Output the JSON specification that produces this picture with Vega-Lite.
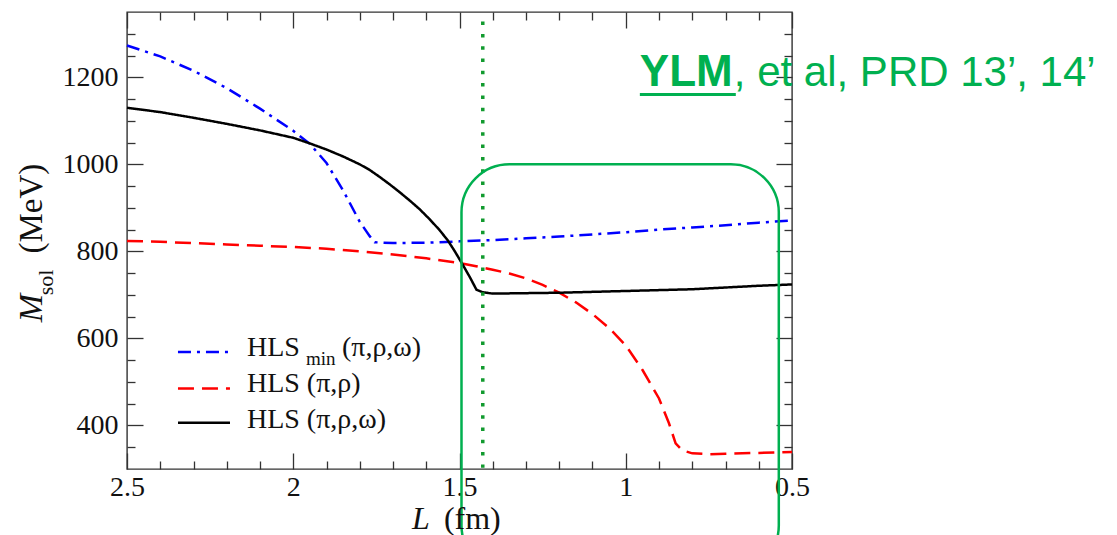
{
  "$schema": "https://vega.github.io/schema/vega-lite/v6.json",
  "width": 665,
  "height": 457,
  "autosize": {"type": "none"},
  "padding": {"left": 127, "top": 12, "right": 325, "bottom": 66},
  "background": "white",
  "config": {
    "view": {"stroke": "#333333", "strokeWidth": 1.4},
    "axis": {"tickColor": "#333333", "tickWidth": 1.3, "labelFont": "Liberation Serif", "labelFontSize": 28, "labelColor": "#111111", "grid": false, "domain": false, "labelFlush": false, "labelOverlap": false}
  },
  "layer": [
    {
      "data": {"values": [
        {"series": "HLS_min", "L": 2.5, "M": 1273}, {"series": "HLS_min", "L": 2.4, "M": 1248}, {"series": "HLS_min", "L": 2.3, "M": 1215}, {"series": "HLS_min", "L": 2.2, "M": 1175}, {"series": "HLS_min", "L": 2.1, "M": 1128}, {"series": "HLS_min", "L": 2.0, "M": 1077}, {"series": "HLS_min", "L": 1.95, "M": 1047}, {"series": "HLS_min", "L": 1.9, "M": 1003}, {"series": "HLS_min", "L": 1.85, "M": 940}, {"series": "HLS_min", "L": 1.8, "M": 868}, {"series": "HLS_min", "L": 1.77, "M": 835}, {"series": "HLS_min", "L": 1.755, "M": 821}, {"series": "HLS_min", "L": 1.7, "M": 819}, {"series": "HLS_min", "L": 1.6, "M": 820}, {"series": "HLS_min", "L": 1.5, "M": 823}, {"series": "HLS_min", "L": 1.4, "M": 826}, {"series": "HLS_min", "L": 1.3, "M": 830}, {"series": "HLS_min", "L": 1.2, "M": 834}, {"series": "HLS_min", "L": 1.1, "M": 839}, {"series": "HLS_min", "L": 1.0, "M": 844}, {"series": "HLS_min", "L": 0.9, "M": 850}, {"series": "HLS_min", "L": 0.8, "M": 855}, {"series": "HLS_min", "L": 0.7, "M": 860}, {"series": "HLS_min", "L": 0.6, "M": 866}, {"series": "HLS_min", "L": 0.5, "M": 871},
        {"series": "HLS_pr", "L": 2.5, "M": 824}, {"series": "HLS_pr", "L": 2.4, "M": 822}, {"series": "HLS_pr", "L": 2.3, "M": 819}, {"series": "HLS_pr", "L": 2.2, "M": 816}, {"series": "HLS_pr", "L": 2.1, "M": 813}, {"series": "HLS_pr", "L": 2.0, "M": 810}, {"series": "HLS_pr", "L": 1.9, "M": 806}, {"series": "HLS_pr", "L": 1.8, "M": 800}, {"series": "HLS_pr", "L": 1.7, "M": 793}, {"series": "HLS_pr", "L": 1.6, "M": 784}, {"series": "HLS_pr", "L": 1.5, "M": 773}, {"series": "HLS_pr", "L": 1.45, "M": 766}, {"series": "HLS_pr", "L": 1.4, "M": 758}, {"series": "HLS_pr", "L": 1.35, "M": 749}, {"series": "HLS_pr", "L": 1.3, "M": 738}, {"series": "HLS_pr", "L": 1.25, "M": 723}, {"series": "HLS_pr", "L": 1.2, "M": 705}, {"series": "HLS_pr", "L": 1.15, "M": 683}, {"series": "HLS_pr", "L": 1.1, "M": 656}, {"series": "HLS_pr", "L": 1.05, "M": 624}, {"series": "HLS_pr", "L": 1.0, "M": 584}, {"series": "HLS_pr", "L": 0.95, "M": 528}, {"series": "HLS_pr", "L": 0.9, "M": 462}, {"series": "HLS_pr", "L": 0.87, "M": 405}, {"series": "HLS_pr", "L": 0.85, "M": 359}, {"series": "HLS_pr", "L": 0.83, "M": 343}, {"series": "HLS_pr", "L": 0.8, "M": 336}, {"series": "HLS_pr", "L": 0.75, "M": 334}, {"series": "HLS_pr", "L": 0.7, "M": 335}, {"series": "HLS_pr", "L": 0.6, "M": 337}, {"series": "HLS_pr", "L": 0.5, "M": 339},
        {"series": "HLS_prw", "L": 2.5, "M": 1130}, {"series": "HLS_prw", "L": 2.4, "M": 1120}, {"series": "HLS_prw", "L": 2.3, "M": 1107}, {"series": "HLS_prw", "L": 2.2, "M": 1093}, {"series": "HLS_prw", "L": 2.1, "M": 1078}, {"series": "HLS_prw", "L": 2.0, "M": 1061}, {"series": "HLS_prw", "L": 1.95, "M": 1048}, {"series": "HLS_prw", "L": 1.9, "M": 1034}, {"series": "HLS_prw", "L": 1.85, "M": 1018}, {"series": "HLS_prw", "L": 1.8, "M": 1000}, {"series": "HLS_prw", "L": 1.77, "M": 987}, {"series": "HLS_prw", "L": 1.74, "M": 971}, {"series": "HLS_prw", "L": 1.71, "M": 954}, {"series": "HLS_prw", "L": 1.68, "M": 936}, {"series": "HLS_prw", "L": 1.65, "M": 917}, {"series": "HLS_prw", "L": 1.62, "M": 897}, {"series": "HLS_prw", "L": 1.59, "M": 874}, {"series": "HLS_prw", "L": 1.56, "M": 849}, {"series": "HLS_prw", "L": 1.535, "M": 825}, {"series": "HLS_prw", "L": 1.514, "M": 800}, {"series": "HLS_prw", "L": 1.493, "M": 773}, {"series": "HLS_prw", "L": 1.469, "M": 741}, {"series": "HLS_prw", "L": 1.449, "M": 712}, {"series": "HLS_prw", "L": 1.43, "M": 706}, {"series": "HLS_prw", "L": 1.4, "M": 703}, {"series": "HLS_prw", "L": 1.3, "M": 704}, {"series": "HLS_prw", "L": 1.2, "M": 705}, {"series": "HLS_prw", "L": 1.1, "M": 707}, {"series": "HLS_prw", "L": 1.0, "M": 709}, {"series": "HLS_prw", "L": 0.9, "M": 711}, {"series": "HLS_prw", "L": 0.8, "M": 713}, {"series": "HLS_prw", "L": 0.7, "M": 717}, {"series": "HLS_prw", "L": 0.6, "M": 721}, {"series": "HLS_prw", "L": 0.5, "M": 724}
      ]},
      "mark": {"type": "line", "strokeWidth": 2.5},
      "encoding": {
        "x": {"field": "L", "type": "quantitative", "scale": {"domain": [0.5, 2.5], "reverse": true, "nice": false, "zero": false},
              "axis": {"orient": "bottom", "values": [2.5, 2, 1.5, 1, 0.5], "format": "~g", "tickSize": -16, "labelPadding": 20, "title": null}},
        "y": {"field": "M", "type": "quantitative", "scale": {"domain": [300, 1350], "nice": false, "zero": false},
              "axis": {"orient": "left", "values": [400, 600, 800, 1000, 1200], "format": "d", "tickSize": -16, "labelPadding": 25, "title": null}},
        "color": {"field": "series", "type": "nominal", "scale": {"domain": ["HLS_min", "HLS_pr", "HLS_prw"], "range": ["#0000ff", "#ff0000", "#000000"]}, "legend": null},
        "strokeDash": {"field": "series", "type": "nominal", "scale": {"domain": ["HLS_min", "HLS_pr", "HLS_prw"], "range": [[13, 6, 3, 6], [16, 8], [1, 0]]}, "legend": null}
      }
    },
    {
      "data": {"values": [{"L": 1.43, "M": 1328, "M2": 303}]},
      "mark": {"type": "rule", "color": "#119a2e", "strokeWidth": 3.5, "strokeDash": [3.5, 8.8]},
      "encoding": {
        "x": {"field": "L", "type": "quantitative", "scale": {"domain": [0.5, 2.5], "reverse": true, "nice": false, "zero": false},
              "axis": {"orient": "bottom", "values": [0.6, 0.7, 0.8, 0.9, 1.1, 1.2, 1.3, 1.4, 1.6, 1.7, 1.8, 1.9, 2.1, 2.2, 2.3, 2.4], "tickSize": -8, "labels": false, "title": null}},
        "y": {"field": "M", "type": "quantitative", "scale": {"domain": [300, 1350], "nice": false, "zero": false},
              "axis": {"orient": "left", "values": [350, 450, 500, 550, 650, 700, 750, 850, 900, 950, 1050, 1100, 1150, 1250, 1300], "tickSize": -8, "labels": false, "title": null}},
        "y2": {"field": "M2"}
      }
    },
    {
      "data": {"values": [{"series": "HLS_min", "L": 2.3467, "L2": 2.1903, "M": 569}, {"series": "HLS_pr", "L": 2.3467, "L2": 2.1903, "M": 485}, {"series": "HLS_prw", "L": 2.3467, "L2": 2.1903, "M": 406}]},
      "mark": {"type": "rule", "strokeWidth": 2.5},
      "encoding": {
        "x": {"field": "L", "type": "quantitative", "scale": {"domain": [0.5, 2.5], "reverse": true, "nice": false, "zero": false},
              "axis": {"orient": "top", "values": [2.5, 2, 1.5, 1, 0.5], "tickSize": -16, "labels": false, "title": null}},
        "x2": {"field": "L2"},
        "y": {"field": "M", "type": "quantitative", "scale": {"domain": [300, 1350], "nice": false, "zero": false},
              "axis": {"orient": "right", "values": [400, 600, 800, 1000, 1200], "tickSize": -16, "labels": false, "title": null}},
        "color": {"field": "series", "type": "nominal", "scale": {"domain": ["HLS_min", "HLS_pr", "HLS_prw"], "range": ["#0000ff", "#ff0000", "#000000"]}, "legend": null},
        "strokeDash": {"field": "series", "type": "nominal", "scale": {"domain": ["HLS_min", "HLS_pr", "HLS_prw"], "range": [[13, 6, 3, 6], [16, 8], [1, 0]]}, "legend": null}
      }
    },
    {
      "data": {"values": [{"L": 1.494, "L2": 0.5397, "M": 1000, "M2": 60}]},
      "mark": {"type": "rect", "fill": "#ffffff", "fillOpacity": 0, "stroke": "#00b050", "strokeWidth": 2.5, "cornerRadius": 48},
      "encoding": {
        "x": {"field": "L", "type": "quantitative", "scale": {"domain": [0.5, 2.5], "reverse": true, "nice": false, "zero": false},
              "axis": {"orient": "top", "values": [0.6, 0.7, 0.8, 0.9, 1.1, 1.2, 1.3, 1.4, 1.6, 1.7, 1.8, 1.9, 2.1, 2.2, 2.3, 2.4], "tickSize": -8, "labels": false, "title": null}},
        "x2": {"field": "L2"},
        "y": {"field": "M", "type": "quantitative", "scale": {"domain": [300, 1350], "nice": false, "zero": false},
              "axis": {"orient": "right", "values": [350, 450, 500, 550, 650, 700, 750, 850, 900, 950, 1050, 1100, 1150, 1250, 1300], "tickSize": -8, "labels": false, "title": null}},
        "y2": {"field": "M2"}
      }
    },
    {
      "data": {"values": [{"t": "HLS", "L": 2.1392, "M": 559}, {"t": "(π,ρ,ω)", "L": 1.8536, "M": 559}, {"t": "HLS (π,ρ)", "L": 2.1392, "M": 477}, {"t": "HLS (π,ρ,ω)", "L": 2.1392, "M": 395}]},
      "mark": {"type": "text", "font": "Liberation Serif", "fontSize": 28, "color": "#111111", "align": "left", "baseline": "alphabetic"},
      "encoding": {
        "x": {"field": "L", "type": "quantitative", "scale": {"domain": [0.5, 2.5], "reverse": true, "nice": false, "zero": false}, "axis": null},
        "y": {"field": "M", "type": "quantitative", "scale": {"domain": [300, 1350], "nice": false, "zero": false}, "axis": null},
        "text": {"field": "t"}
      }
    },
    {
      "data": {"values": [{"t": "min", "L": 1.9618, "M": 538}]},
      "mark": {"type": "text", "font": "Liberation Serif", "fontSize": 19, "color": "#111111", "align": "left", "baseline": "alphabetic"},
      "encoding": {
        "x": {"field": "L", "type": "quantitative", "scale": {"domain": [0.5, 2.5], "reverse": true, "nice": false, "zero": false}, "axis": null},
        "y": {"field": "M", "type": "quantitative", "scale": {"domain": [300, 1350], "nice": false, "zero": false}, "axis": null},
        "text": {"field": "t"}
      }
    },
    {
      "data": {"values": [{"t": "M", "L": 2.7556, "M": 637}]},
      "mark": {"type": "text", "font": "Liberation Serif", "fontStyle": "italic", "fontSize": 34, "color": "#111111", "align": "left", "baseline": "alphabetic", "angle": 270},
      "encoding": {
        "x": {"field": "L", "type": "quantitative", "scale": {"domain": [0.5, 2.5], "reverse": true, "nice": false, "zero": false}, "axis": null},
        "y": {"field": "M", "type": "quantitative", "scale": {"domain": [300, 1350], "nice": false, "zero": false}, "axis": null},
        "text": {"field": "t"}
      }
    },
    {
      "data": {"values": [{"t": "sol", "L": 2.7225, "M": 699}]},
      "mark": {"type": "text", "font": "Liberation Serif", "fontSize": 22, "color": "#111111", "align": "left", "baseline": "alphabetic", "angle": 270},
      "encoding": {
        "x": {"field": "L", "type": "quantitative", "scale": {"domain": [0.5, 2.5], "reverse": true, "nice": false, "zero": false}, "axis": null},
        "y": {"field": "M", "type": "quantitative", "scale": {"domain": [300, 1350], "nice": false, "zero": false}, "axis": null},
        "text": {"field": "t"}
      }
    },
    {
      "data": {"values": [{"t": "(MeV)", "L": 2.7556, "M": 795}]},
      "mark": {"type": "text", "font": "Liberation Serif", "fontSize": 33, "color": "#111111", "align": "left", "baseline": "alphabetic", "angle": 270},
      "encoding": {
        "x": {"field": "L", "type": "quantitative", "scale": {"domain": [0.5, 2.5], "reverse": true, "nice": false, "zero": false}, "axis": null},
        "y": {"field": "M", "type": "quantitative", "scale": {"domain": [300, 1350], "nice": false, "zero": false}, "axis": null},
        "text": {"field": "t"}
      }
    },
    {
      "data": {"values": [{"t": "L", "L": 1.6431, "M": 163}]},
      "mark": {"type": "text", "font": "Liberation Serif", "fontStyle": "italic", "fontSize": 32, "color": "#111111", "align": "left", "baseline": "alphabetic"},
      "encoding": {
        "x": {"field": "L", "type": "quantitative", "scale": {"domain": [0.5, 2.5], "reverse": true, "nice": false, "zero": false}, "axis": null},
        "y": {"field": "M", "type": "quantitative", "scale": {"domain": [300, 1350], "nice": false, "zero": false}, "axis": null},
        "text": {"field": "t"}
      }
    },
    {
      "data": {"values": [{"t": "(fm)", "L": 1.5469, "M": 163}]},
      "mark": {"type": "text", "font": "Liberation Serif", "fontSize": 32, "color": "#111111", "align": "left", "baseline": "alphabetic"},
      "encoding": {
        "x": {"field": "L", "type": "quantitative", "scale": {"domain": [0.5, 2.5], "reverse": true, "nice": false, "zero": false}, "axis": null},
        "y": {"field": "M", "type": "quantitative", "scale": {"domain": [300, 1350], "nice": false, "zero": false}, "axis": null},
        "text": {"field": "t"}
      }
    },
    {
      "data": {"values": [{"t": "YLM", "L": 0.9576, "M": 1179.3}]},
      "mark": {"type": "text", "font": "Liberation Sans", "fontWeight": "bold", "fontSize": 44, "color": "#00b050", "align": "left", "baseline": "alphabetic"},
      "encoding": {
        "x": {"field": "L", "type": "quantitative", "scale": {"domain": [0.5, 2.5], "reverse": true, "nice": false, "zero": false}, "axis": null},
        "y": {"field": "M", "type": "quantitative", "scale": {"domain": [300, 1350], "nice": false, "zero": false}, "axis": null},
        "text": {"field": "t"}
      }
    },
    {
      "data": {"values": [{"t": ", et al, PRD 13’, 14’", "L": 0.675, "M": 1179.3}]},
      "mark": {"type": "text", "font": "Liberation Sans", "fontSize": 42, "color": "#00b050", "align": "left", "baseline": "alphabetic"},
      "encoding": {
        "x": {"field": "L", "type": "quantitative", "scale": {"domain": [0.5, 2.5], "reverse": true, "nice": false, "zero": false}, "axis": null},
        "y": {"field": "M", "type": "quantitative", "scale": {"domain": [300, 1350], "nice": false, "zero": false}, "axis": null},
        "text": {"field": "t"}
      }
    },
    {
      "data": {"values": [{"L": 0.9576, "L2": 0.669, "M": 1160.3}]},
      "mark": {"type": "rule", "color": "#00b050", "strokeWidth": 3},
      "encoding": {
        "x": {"field": "L", "type": "quantitative", "scale": {"domain": [0.5, 2.5], "reverse": true, "nice": false, "zero": false}, "axis": null},
        "x2": {"field": "L2"},
        "y": {"field": "M", "type": "quantitative", "scale": {"domain": [300, 1350], "nice": false, "zero": false}, "axis": null}
      }
    }
  ],
  "resolve": {"axis": {"x": "independent", "y": "independent"}}
}
